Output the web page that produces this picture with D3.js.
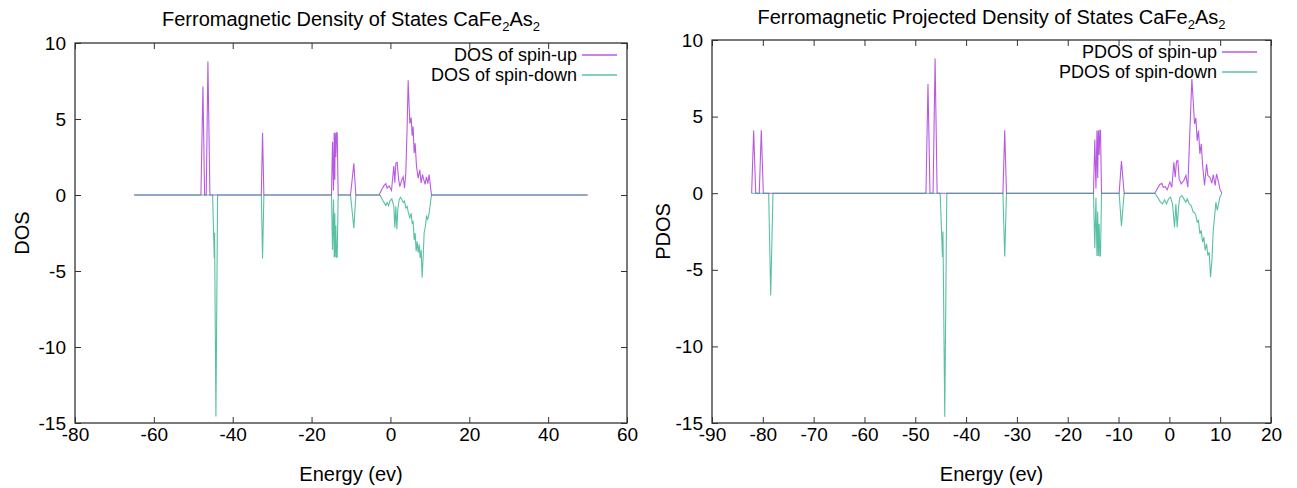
<!DOCTYPE html>
<html>
<head>
<meta charset="utf-8">
<script src="https://cdn.jsdelivr.net/npm/d3@7"></script>
<style>
  body { margin: 0; background: #fff; }
  svg { font-family: "Liberation Sans", Arial, sans-serif; }
  .axis text { font-size: 19px; fill: #000; }
  .axis line { stroke: #333; }
  .axis .domain { display: none; }
</style>
</head>
<body>
<div id="chart"></div>
<script>
// ---- data: [energy (eV), DOS] ----
const dosUp = [[-65,0],
  [-48.06,0],[-47.55,7.13],[-47.13,0],[-46.71,0],[-46.29,8.79],[-45.78,0],
  [-32.75,0],[-32.43,4.1],[-32.1,0],
  [-14.94,0],[-14.69,3.5],[-14.43,0.3],[-14.26,4.1],[-14.1,1.0],[-14.01,4.1],[-13.84,2.5],[-13.67,4.1],[-13.5,4.1],[-13.25,0],
  [-10.12,0],[-9.28,2.08],[-8.77,0],
  [-2.85,0],[-2.26,0.35],[-1.67,0.6],[-1.17,0.75],[-0.83,0.45],[-0.32,0.6],[0.27,0.3],[0.86,1.9],[1.12,0.8],[1.37,2.1],
  [1.71,2.15],[2.05,1.1],[2.38,0.55],[2.89,1.0],[3.23,1.2],[3.57,0.45],[3.9,1.45],[4.24,4.5],[4.5,7.55],[4.75,5.8],
  [4.92,4.7],[5.26,5.1],[5.51,3.9],[5.76,4.5],[6.02,2.75],[6.27,3.4],[6.61,1.9],[7.03,1.1],[7.45,1.65],[7.79,0.8],
  [8.13,1.35],[8.47,1.0],[8.8,0.7],[9.14,1.2],[9.48,0.75],[9.82,1.35],[10.16,0.55],[10.41,0],
  [50,0]];

const dosDown = [[-65,0],
  [-45.1,0],[-44.68,-4.17],[-44.6,-2.48],[-44.26,-14.58],[-43.83,0],
  [-32.75,0],[-32.43,-4.17],[-32.1,0],
  [-14.94,0],[-14.69,-3.6],[-14.43,-0.3],[-14.26,-4.1],[-14.1,-1.2],[-14.01,-4.1],[-13.84,-2.0],[-13.67,-4.1],[-13.5,-4.1],[-13.25,0],
  [-10.12,0],[-9.28,-2.19],[-8.77,0],
  [-2.85,0],[-2.52,-0.05],[-2.18,-0.25],[-1.84,-0.4],[-1.5,-0.55],[-1.17,-0.7],[-0.83,-0.5],[-0.49,-0.7],[-0.15,-0.4],
  [0.35,-0.25],[0.86,-0.75],[1.12,-2.15],[1.37,-0.75],[1.62,-2.25],[1.88,-0.95],[2.21,-0.3],[2.55,-0.15],[2.89,-0.3],
  [3.23,-0.5],[3.57,-0.4],[3.9,-0.85],[4.24,-0.75],[4.58,-1.2],[4.92,-1.5],[5.26,-1.2],[5.51,-1.85],[5.76,-1.75],
  [6.02,-2.95],[6.27,-2.5],[6.52,-3.7],[6.78,-3.05],[7.03,-3.8],[7.28,-3.25],[7.54,-4.15],[7.79,-3.6],[8.04,-5.45],
  [8.3,-4.05],[8.55,-2.5],[8.89,-2.05],[9.14,-1.4],[9.48,-1.6],[9.82,-1.2],[10.16,-0.5],[10.41,0],
  [50,0]];

const pdosUp = [[-82.2,0],[-81.8,4.09],[-81.4,0],[-80.7,0],[-80.3,4.1],[-79.9,0],
  [-47.9,0],[-47.5,7.13],[-47.1,0],[-46.5,0],[-46.1,8.8],[-45.7,0],
  [-32.75,0],[-32.4,4.1],[-32.05,0],
  [-14.93,0],[-14.67,3.5],[-14.45,0.3],[-14.25,4.1],[-14.1,1.0],[-13.98,4.1],[-13.82,2.5],[-13.68,4.1],[-13.55,4.1],[-13.35,0],
  [-9.88,0],[-9.43,2.1],[-8.9,0],
  [-2.85,0],[-2.4,0.28],[-1.87,0.57],[-1.48,0.65],[-1.21,0.39],[-0.82,0.43],[-0.43,0.22],[0.1,0.72],[0.49,0.39],
  [0.89,2.02],[1.15,1.04],[1.41,2.09],[1.67,2.13],[1.93,0.93],[2.33,0.61],[2.85,0.83],[3.25,1.15],[3.64,0.39],
  [4.04,4.09],[4.43,7.46],[4.69,6.04],[4.95,4.52],[5.22,4.91],[5.48,3.43],[5.74,4.09],[6.0,2.57],[6.27,3.22],
  [6.53,1.91],[6.92,0.5],[7.32,1.91],[7.58,1.15],[7.97,1.04],[8.37,0.65],[8.63,1.22],[9.02,0.5],[9.28,1.26],
  [9.68,0.72],[9.94,0.28],[10.33,0]];

const pdosDown = [[-82.2,0],[-78.85,0],[-78.45,-6.67],[-78.0,0],
  [-45.1,0],[-44.65,-4.17],[-44.55,-2.5],[-44.2,-14.6],[-43.8,0],
  [-32.75,0],[-32.4,-4.13],[-32.05,0],
  [-14.93,0],[-14.67,-3.6],[-14.45,-0.3],[-14.25,-4.1],[-14.1,-1.2],[-13.98,-4.1],[-13.82,-2.0],[-13.68,-4.1],[-13.55,-4.1],[-13.35,0],
  [-9.88,0],[-9.43,-2.15],[-8.9,0],
  [-2.85,0],[-2.53,-0.15],[-2.13,-0.37],[-1.74,-0.59],[-1.34,-0.7],[-0.95,-0.43],[-0.56,-0.7],[-0.16,-0.37],[0.23,-0.26],
  [0.62,-0.7],[1.02,-2.22],[1.28,-0.7],[1.54,-2.22],[1.8,-0.91],[2.07,-0.26],[2.46,-0.15],[2.85,-0.37],[3.25,-0.59],
  [3.51,-0.37],[3.9,-0.7],[4.3,-0.8],[4.69,-1.24],[4.95,-1.24],[5.22,-1.46],[5.48,-1.89],[5.74,-1.78],[6.0,-2.65],
  [6.27,-2.43],[6.53,-3.2],[6.79,-2.87],[7.05,-3.74],[7.32,-3.3],[7.58,-4.07],[7.84,-3.85],[8.1,-5.48],[8.37,-4.39],
  [8.63,-2.43],[8.89,-1.57],[9.15,-0.59],[9.42,-1.13],[9.68,-0.7],[9.94,-0.26],[10.33,0]];

const dosXTicks = [-80, -60, -40, -20, 0, 20, 40, 60];
const pdosXTicks = [-90, -80, -70, -60, -50, -40, -30, -20, -10, 0, 10, 20];
const yTicks = [-15, -10, -5, 0, 5, 10];

const upColor = "#9400d3", downColor = "#009e73";

// gnuplot prints a plain hyphen, not the unicode minus d3 uses
const plain = d => String(d);

const svg = d3.select("#chart").append("svg")
    .attr("width", 1297)
    .attr("height", 488);

function drawPanel(p) {
    const x = d3.scaleLinear().domain(p.xDomain).range([p.left, p.right]);
    const y = d3.scaleLinear().domain([-15, 10]).range([p.bottom, p.top]);
    const g = svg.append("g");

    g.append("g").attr("class", "axis")
        .attr("transform", "translate(0," + p.bottom + ")")
        .call(d3.axisBottom(x).tickValues(p.xTicks).tickSize(-6).tickPadding(5).tickFormat(plain));
    g.append("g").attr("class", "axis")
        .attr("transform", "translate(0," + p.top + ")")
        .call(d3.axisTop(x).tickValues(p.xTicks).tickSize(-6).tickFormat(""));
    g.append("g").attr("class", "axis")
        .attr("transform", "translate(" + p.left + ",0)")
        .call(d3.axisLeft(y).tickValues(yTicks).tickSize(-6).tickPadding(9).tickFormat(plain));
    g.append("g").attr("class", "axis")
        .attr("transform", "translate(" + p.right + ",0)")
        .call(d3.axisRight(y).tickValues(yTicks).tickSize(-6).tickFormat(""));

    const line = d3.line().x(d => x(d[0])).y(d => y(d[1]));

    g.append("path").datum(p.up)
        .attr("d", line).attr("fill", "none")
        .attr("stroke", upColor).attr("stroke-width", 1.1).attr("stroke-opacity", 0.65);
    g.append("path").datum(p.down)
        .attr("d", line).attr("fill", "none")
        .attr("stroke", downColor).attr("stroke-width", 1.1).attr("stroke-opacity", 0.65);

    g.append("rect")
        .attr("x", p.left).attr("y", p.top)
        .attr("width", p.right - p.left).attr("height", p.bottom - p.top)
        .attr("fill", "none").attr("stroke", "#333").attr("stroke-width", 1.3);

    // title with subscripts
    const t = g.append("text")
        .attr("x", (p.left + p.right) / 2).attr("y", p.titleY)
        .attr("text-anchor", "middle").style("font-size", "20px");
    t.append("tspan").text(p.title + " CaFe");
    t.append("tspan").text("2").attr("dy", 5).style("font-size", "13px");
    t.append("tspan").text("As").attr("dy", -5);
    t.append("tspan").text("2").attr("dy", 5).style("font-size", "13px");

    g.append("text")
        .attr("transform", "translate(" + p.yLabelX + "," + (p.top + p.bottom) / 2 + ") rotate(-90)")
        .attr("text-anchor", "middle").attr("dy", "0.35em")
        .style("font-size", "20px").text(p.yLabel);

    g.append("text")
        .attr("x", (p.left + p.right) / 2).attr("y", 481)
        .attr("text-anchor", "middle").style("font-size", "20px")
        .text("Energy (ev)");

    // legend
    [[p.legendUp, upColor], [p.legendDown, downColor]].forEach((d, i) => {
        const ly = p.legendY + i * 20;
        g.append("text")
            .attr("x", p.legendX).attr("y", ly).attr("dy", "0.35em")
            .attr("text-anchor", "end").style("font-size", "18px").text(d[0]);
        g.append("line")
            .attr("x1", p.legendX + 5).attr("x2", p.legendX + 40)
            .attr("y1", ly).attr("y2", ly)
            .attr("stroke", d[1]).attr("stroke-width", 1.5).attr("stroke-opacity", 0.65);
    });
}

drawPanel({
    left: 75, right: 627, top: 43, bottom: 423,
    xDomain: [-80, 60], xTicks: dosXTicks,
    up: dosUp, down: dosDown,
    title: "Ferromagnetic Density of States", titleY: 26,
    yLabel: "DOS", yLabelX: 22,
    legendUp: "DOS of spin-up", legendDown: "DOS of spin-down",
    legendX: 577, legendY: 55
});

drawPanel({
    left: 712, right: 1271, top: 40, bottom: 423,
    xDomain: [-90, 20], xTicks: pdosXTicks,
    up: pdosUp, down: pdosDown,
    title: "Ferromagnetic Projected Density of States", titleY: 24,
    yLabel: "PDOS", yLabelX: 663,
    legendUp: "PDOS of spin-up", legendDown: "PDOS of spin-down",
    legendX: 1217, legendY: 52
});
</script>
</body>
</html>
